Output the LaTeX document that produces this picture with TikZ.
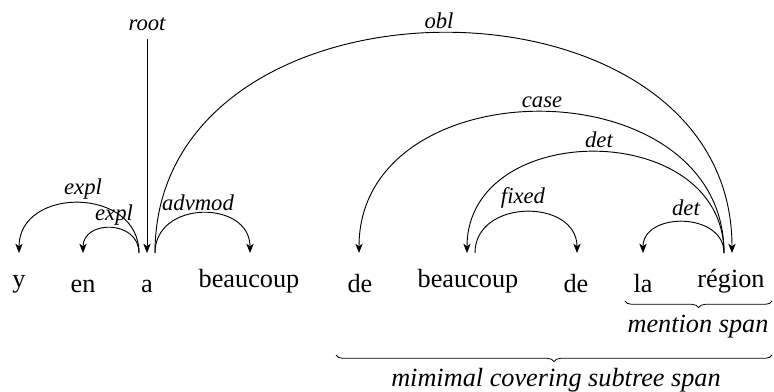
\documentclass[tikz,border=0pt]{standalone}
\usepackage{fontspec}
\setmainfont{Liberation Serif}[ItalicFont={Liberation Serif Italic}]
\usepackage{tikz}
\usetikzlibrary{calc,arrows.meta,decorations.pathreplacing}
\tikzset{
  word/.style={anchor=south, inner sep=0pt, font=\fontsize{19.7}{23}\selectfont},
  rel/.style={draw=black, line width=0.7pt},
  dep/.style={rel, -{Stealth[length=7pt,width=5.5pt,inset=2pt]}},
  lab/.style={anchor=base, inner sep=0pt, font=\fontsize{17}{20}\selectfont\itshape},
  spanlab/.style={anchor=base, inner sep=0pt, font=\fontsize{19.7}{23}\selectfont\itshape},
  span/.style={draw=black, line width=0.6pt, decorate, decoration={brace, mirror, amplitude=5pt}},
}

\begin{document}
\begin{tikzpicture}[x=0.75pt, y=-0.75pt]
\useasboundingbox (0,0) rectangle (774,392);

% the sentence
\node[word] (y)  at (19,293)  {y};
\node[word] (en) at (83,293)  {en};
\node[word] (a)  at (147,293) {a};
\node[word] (beaucoupA) at (249,293) {beaucoup};
\node[word] (deA) at (360,293) {de};
\node[word] (beaucoupB) at (468,293) {beaucoup};
\node[word] (deB) at (576,293) {de};
\node[word] (la) at (643,293) {la};
\node[word] (region) at (731,293) {région};

% where the arcs leave and land
\coordinate (a-out)   at (139,253);
\coordinate (a-root)  at (147,253);
\coordinate (a-right) at (155,253);
\coordinate (y-in)    at (19,253);
\coordinate (en-in)   at (83,253);
\coordinate (beaucoupA-in) at (250,253);
\coordinate (deA-in)  at (359,253);
\coordinate (beaucoupB-in)  at (467,253);
\coordinate (beaucoupB-out) at (475,253);
\coordinate (deB-in)  at (577,253);
\coordinate (la-in)   at (643,253);
\coordinate (region-out) at (724,253);
\coordinate (region-in)  at (732,253);

% root
\node[lab] (rootlab) at (147,31) {root};
\draw[dep] ([yshift=-6pt]rootlab.south) -- (a-root);

% arcs from a
\draw[dep] (a-out) .. controls ($(a-out)+(0,-66.7)$) and ($(y-in)+(0,-66.7)$) .. (y-in);
\draw[dep] (a-out) .. controls ($(a-out)+(0,-33.3)$) and ($(en-in)+(0,-33.3)$) .. (en-in);
\draw[dep] (a-right) .. controls ($(a-right)+(0,-53.3)$) and ($(beaucoupA-in)+(0,-53.3)$) .. (beaucoupA-in);
\draw[dep] (a-right) .. controls ($(a-right)+(0,-293.3)$) and ($(region-in)+(0,-293.3)$) .. (region-in);

% arcs from région and beaucoup
\draw[dep] (region-out) .. controls ($(region-out)+(0,-188)$) and ($(deA-in)+(0,-188)$) .. (deA-in);
\draw[dep] (region-out) .. controls ($(region-out)+(0,-134.7)$) and ($(beaucoupB-in)+(0,-134.7)$) .. (beaucoupB-in);
\draw[dep] (beaucoupB-out) .. controls ($(beaucoupB-out)+(0,-54.7)$) and ($(deB-in)+(0,-54.7)$) .. (deB-in);
\draw[dep] (region-out) .. controls ($(region-out)+(0,-41.3)$) and ($(la-in)+(0,-41.3)$) .. (la-in);

% relation labels
\node[lab] (explA)  at (83,195)  {expl};
\node[lab] (explB)  at (114,220) {expl};
\node[lab] (advmod) at (198,210) {advmod};
\node[lab] (obl)    at (439,29)  {obl};
\node[lab] (case)   at (542,108) {case};
\node[lab] (detA)   at (599,148) {det};
\node[lab] (fixed)  at (523,203) {fixed};
\node[lab] (detB)   at (686,215) {det};

% spans
\coordinate (ms-l) at (625,301);
\coordinate (ms-r) at (772,301);
\draw[span] (ms-l) -- (ms-r);
\node[spanlab] (mention) at (698,332) {mention span};

\coordinate (cs-l) at (336,355);
\coordinate (cs-r) at (772,355);
\draw[span] (cs-l) -- (cs-r);
\node[spanlab] (subtree) at (556,386) {mimimal covering subtree span};
\end{tikzpicture}
\end{document}
